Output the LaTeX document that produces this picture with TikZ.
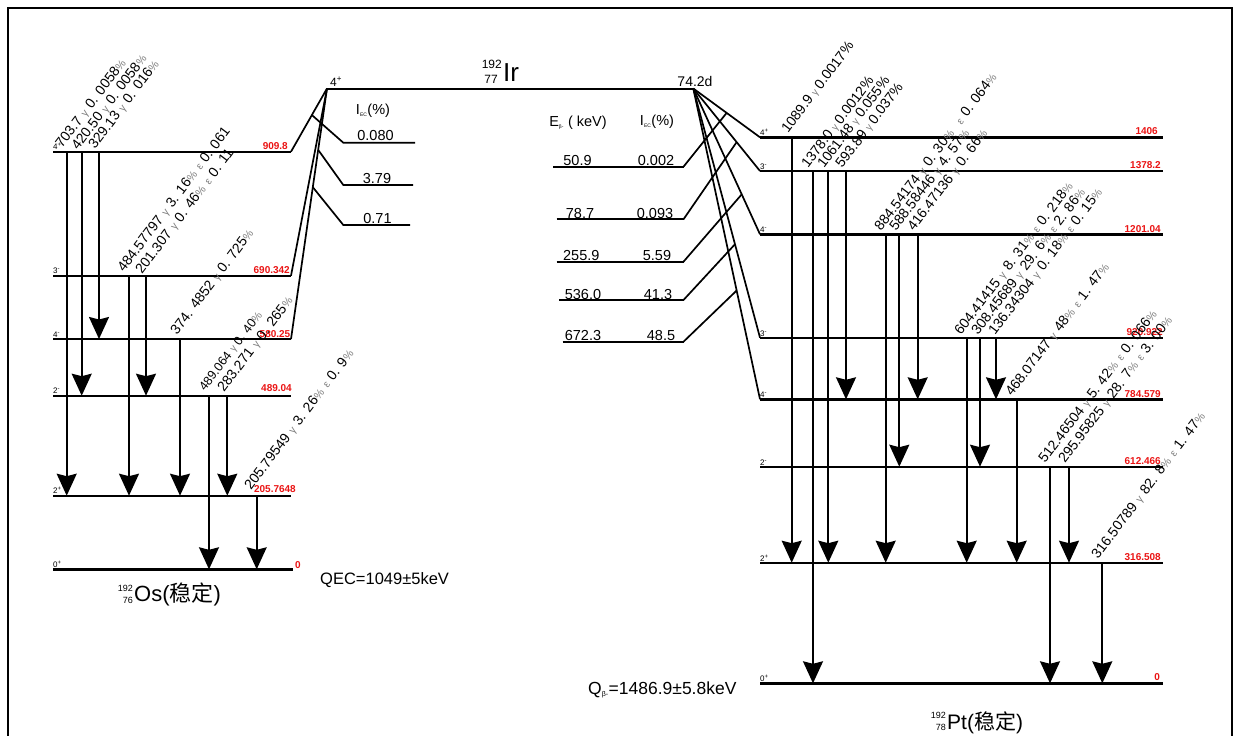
\documentclass[tikz,border=0pt]{standalone}
\usepackage{fontspec}
\setmainfont{Liberation Sans}
\newfontfamily\cjk{Noto Sans CJK SC}
\usetikzlibrary{arrows.meta,calc}
\definecolor{lblgray}{gray}{0.5}
\definecolor{lvred}{RGB}{235,20,20}
\newcommand\gm{\hspace{4.5pt}{\color{lblgray}\fontsize{10.5}{10.5}\selectfont γ}\hspace{4.5pt}}
\newcommand\gs{\hspace{3.5pt}{\color{lblgray}\fontsize{10}{10}\selectfont γ}\hspace{3.5pt}}
\newcommand\ep{\hspace{5pt}{\color{lblgray}\fontsize{10.5}{10.5}\selectfont ε}\hspace{4.5pt}}
\newcommand\pc{{\color{lblgray}\fontsize{11}{11}\selectfont\%}}
\newcommand\spp{\textsuperscript{+}}
\newcommand\spm{\textsuperscript{-}}
\begin{document}
\begin{tikzpicture}[x=1pt,y=-1pt,
  lev/.style={line width=2.4pt},
  tr/.style={line width=1.7pt,-{Stealth[length=22pt,width=20pt,inset=2.5pt]}},
  fan/.style={line width=1.7pt},
  lbl/.style={rotate=53,anchor=base west,inner sep=0pt,font=\fontsize{14}{14}\selectfont},
  elab/.style={text=lvred,font=\bfseries\fontsize{10}{10}\selectfont,anchor=base east,inner sep=0pt},
  spin/.style={font=\fontsize{8}{8}\selectfont,anchor=base west,inner sep=0pt},
  num/.style={font=\fontsize{14.5}{14.5}\selectfont,anchor=base,inner sep=0pt},
  hdr/.style={font=\fontsize{14.5}{14.5}\selectfont,anchor=base,inner sep=0pt},
]
\useasboundingbox (0,0) rectangle (1240,736);
\fill[white] (0,0) rectangle (1240,736);
% frame
\draw[line width=1.2pt] (8,736) -- (8,8) -- (1232,8) -- (1232,736);

% ===== Ir parent =====
\coordinate (C1) at (327,88.5);
\coordinate (C2) at (693.3,88.5);
\draw[fan,line width=2pt] (C1) -- (C2);
\node[anchor=base east,font=\fontsize{12}{12}\selectfont,inner sep=0] (irA) at (502,68) {192};
\node[anchor=base east,font=\fontsize{12}{12}\selectfont,inner sep=0] (irZ) at (498,83) {77};
\node[anchor=base west,font=\fontsize{26}{26}\selectfont,inner sep=0] (irN) at (503,81) {Ir};
\node[anchor=base west,font=\fontsize{12}{12}\selectfont,inner sep=0] (irS) at (330,86) {4\spp};
\node[anchor=base,font=\fontsize{14}{14}\selectfont,inner sep=0] (irT) at (695,86) {74.2d};

% ===== Os levels =====
\foreach \n/\y/\xe in {909/151.7/291,690/275.7/291,580/339/291,489/395.7/291,205/495.7/291,0/569.3/293}{
  \coordinate (OL\n) at (53,\y);
  \coordinate (OR\n) at (\xe,\y);
  \draw[lev] (OL\n) -- (OR\n);
}
\node[spin] (os909) at (53,149.5) {4\spp};
\node[spin] (os690) at (53,273.5) {3\spm};
\node[spin] (os580) at (53,337) {4\spm};
\node[spin] (os489) at (53,393.5) {2\spm};
\node[spin] (os205) at (53,493.5) {2\spp};
\node[spin] (os0) at (53,567) {0\spp};
\node[elab] (oe909) at (288,149.5) {909.8};
\node[elab] (oe690) at (290,273) {690.342};
\node[elab] (oe580) at (290.5,337.5) {580.25};
\node[elab] (oe489) at (292,391) {489.04};
\node[elab] (oe205) at (296,492.5) {205.7648};
\node[elab] (oe0) at (301,568) {0};

% EC feeding lines
\draw[fan] (C1) -- (OR909);
\draw[fan] (C1) -- (OR690);
\draw[fan] (C1) -- (OR580);
\coordinate (B1s) at ($(C1)!0.42!(OR909)$);
\coordinate (B2s) at ($(C1)!0.245!(OR580)$);
\coordinate (B3s) at ($(C1)!0.394!(OR580)$);
\coordinate (B1k) at (343.3,142.7); \coordinate (B1e) at (415,142.7);
\coordinate (B2k) at (343.3,185);   \coordinate (B2e) at (413,185);
\coordinate (B3k) at (343.3,225);   \coordinate (B3e) at (410,225);
\draw[fan] (B1s) -- (B1k) -- (B1e);
\draw[fan] (B2s) -- (B2k) -- (B2e);
\draw[fan] (B3s) -- (B3k) -- (B3e);
\node[hdr] (iecL) at (373,114) {I\textsubscript{\fontsize{5}{5}\selectfont EC}(\%)};
\node[num] (ec1) at (375.5,140.5) {0.080};
\node[num] (ec2) at (377,183) {3.79};
\node[num] (ec3) at (377.5,223) {0.71};

% Os gamma transitions
\foreach \n/\x/\ya/\yb in {1/66.7/151.7/495.7,2/81.7/151.7/395.7,3/99/151.7/339,4/129/275.7/495.7,5/146/275.7/395.7,6/180/339/495.7,7/209/395.7/569.3,8/227.3/395.7/495.7,9/256.7/495.7/569.3}{
  \coordinate (oa\n) at (\x,\ya);
  \coordinate (ob\n) at (\x,\yb);
  \draw[tr] (oa\n) -- (ob\n);
}
\node[lbl] (og1) at (62,149) {703.7\gm 0. 0058\pc};
\node[lbl] (og2) at (78,151) {420.50\gm 0. 0058\pc};
\node[lbl] (og3) at (95,150) {329.13\gm 0. 016\pc};
\node[lbl] (og4) at (124,273) {484.57797\gm 3. 16\pc\ep 0. 061};
\node[lbl] (og5) at (142,275) {201.307\gm 0. 46\pc\ep 0. 11};
\node[lbl] (og6) at (177,336) {374. 4852\gm 0. 725\pc};
\node[lbl,font=\fontsize{12.5}{12.5}\selectfont] (og7) at (205,392) {489.064\gs 0. 40\pc};
\node[lbl] (og8) at (224,393) {283.271\gm 0. 265\pc};
\node[lbl] (og9) at (251,491) {205.79549\gm 3. 26\pc\ep 0. 9\pc};

\node[anchor=base west,font=\fontsize{16.5}{16.5}\selectfont,inner sep=0] (qec) at (320,584) {QEC=1049±5keV};
\node[anchor=base east,font=\fontsize{9}{9}\selectfont,inner sep=0] (osA) at (133,591) {192};
\node[anchor=base east,font=\fontsize{9}{9}\selectfont,inner sep=0] (osZ) at (133,603) {76};
\node[anchor=base west,font=\fontsize{22}{22}\selectfont,inner sep=0] (osN) at (134,601) {Os({\cjk 稳定})};

% ===== beta branches =====
\node[hdr] (ebh) at (578,126) {E\textsubscript{\fontsize{5}{5}\selectfont β-} ( keV)};
\node[hdr] (iecR) at (657,125) {I\textsubscript{\fontsize{5}{5}\selectfont EC}(\%)};
\foreach \n/\y/\xs/\ea/\eb/\xa/\xb in {1/166.7/553/50.9/0.002/577.5/656,2/219.3/556.7/78.7/0.093/580/655,3/261.7/556.7/255.9/5.59/581.3/657,4/300/559/536.0/41.3/583/658,5/341.7/562.7/672.3/48.5/583/661}{
  \coordinate (EL\n) at (\xs,\y);
  \coordinate (ER\n) at (683.5,\y);
  \draw[fan] (EL\n) -- (ER\n);
  \node[num] (eb\n) at (\xa,\y-1) {\ea};
  \node[num] (ei\n) at (\xb,\y-1) {\eb};
}

% ===== Pt levels =====
\foreach \n/\y in {1406/137.3,1378/171,1201/234.3,920/337.7,784/399.3,612/466.7,316/562.7,0/683.3}{
  \coordinate (PL\n) at (760,\y);
  \coordinate (PR\n) at (1163,\y);
  \draw[lev] (PL\n) -- (PR\n);
}
\node[spin] (ps1406) at (760,135.5) {4\spp};
\node[spin] (ps1378) at (760,169) {3\spm};
\node[spin] (ps1201) at (760,232.5) {4\spm};
\node[spin] (ps920) at (760,336) {3\spm};
\node[spin] (ps784) at (760,397.5) {4\spm};
\node[spin] (ps612) at (760,465) {2\spm};
\node[spin] (ps316) at (760,561) {2\spp};
\node[spin] (ps0) at (760,681.5) {0\spp};
\node[elab] (pe1406) at (1158,134.5) {1406};
\node[elab] (pe1378) at (1161,168.5) {1378.2};
\node[elab] (pe1201) at (1161,232) {1201.04};
\node[elab] (pe920) at (1163,335.5) {920.922};
\node[elab] (pe784) at (1161,397) {784.579};
\node[elab] (pe612) at (1161,464.5) {612.466};
\node[elab] (pe316) at (1161,560.5) {316.508};
\node[elab] (pe0) at (1160,680) {0};

% fan from Ir to Pt levels
\foreach \n in {1406,1378,1201,920,784}{ \draw[fan] (C2) -- (PL\n); }
\coordinate (F1) at ($(C2)!0.5!(PL1406)$);
\coordinate (F2) at ($(C2)!0.65!(PL1378)$);
\coordinate (F3) at ($(C2)!0.726!(PL1201)$);
\coordinate (F4) at ($(C2)!0.625!(PL920)$);
\coordinate (F5) at ($(C2)!0.65!(PL784)$);
\foreach \n in {1,...,5}{ \draw[fan] (ER\n) -- (F\n); }

% Pt gamma transitions
\foreach \n/\x/\ya/\yb in {1/791.7/137.3/562.7,2/813/171/683.3,3/828.3/171/562.7,4/846/171/399.3,5/885.7/234.3/562.7,6/899.3/234.3/466.7,7/917.7/234.3/399.3,8/966.7/337.7/562.7,9/980/337.7/466.7,10/996/337.7/399.3,11/1016.7/399.3/562.7,12/1050/466.7/683.3,13/1069/466.7/562.7,14/1102.3/562.7/683.3}{
  \coordinate (pa\n) at (\x,\ya);
  \coordinate (pb\n) at (\x,\yb);
  \draw[tr] (pa\n) -- (pb\n);
}
\node[lbl] (pg1) at (788,134) {1089.9\gs 0.0017\%};
\node[lbl] (pg2) at (808,169) {1378.0\gs 0.0012\%};
\node[lbl] (pg3) at (824,169) {1061.48\gs 0.055\%};
\node[lbl] (pg4) at (842,169) {593.89\gs 0.037\%};
\node[lbl] (pg5) at (881,232) {884.54174\gm 0. 30\pc\hspace{6pt}\ep 0. 064\pc};
\node[lbl] (pg6) at (896,232) {588.58446\gm 4. 57\pc};
\node[lbl] (pg7) at (914,232) {416.47136\gm 0. 66\pc};
\node[lbl] (pg8) at (961,336) {604.41415\gm 8. 31\pc\ep 0. 218\pc};
\node[lbl] (pg9) at (978,336) {308.45689\gm 29. 6\pc\ep 2. 86\pc};
\node[lbl] (pg10) at (995,336) {136.34304\gm 0. 18\pc\ep 0. 15\pc};
\node[lbl] (pg11) at (1012,397) {468.07147\gm 48\pc\ep 1. 47\pc};
\node[lbl] (pg12) at (1045,464) {512.46504\gm 5. 42\pc\ep 0. 066\pc};
\node[lbl] (pg13) at (1065,464) {295.95825\gm 28. 7\pc\ep 3. 00\pc};
\node[lbl] (pg14) at (1098,560) {316.50789\gm 82. 8\pc\ep 1. 47\pc};

\node[anchor=base west,font=\fontsize{17.5}{17.5}\selectfont,inner sep=0] (qb) at (588,694) {Q\textsubscript{\fontsize{7}{7}\selectfont β-}=1486.9±5.8keV};
\node[anchor=base east,font=\fontsize{9}{9}\selectfont,inner sep=0] (ptA) at (946,718) {192};
\node[anchor=base east,font=\fontsize{9}{9}\selectfont,inner sep=0] (ptZ) at (946,730) {78};
\node[anchor=base west,font=\fontsize{21}{21}\selectfont,inner sep=0] (ptN) at (947,729) {Pt({\cjk 稳定})};
\end{tikzpicture}
\end{document}
